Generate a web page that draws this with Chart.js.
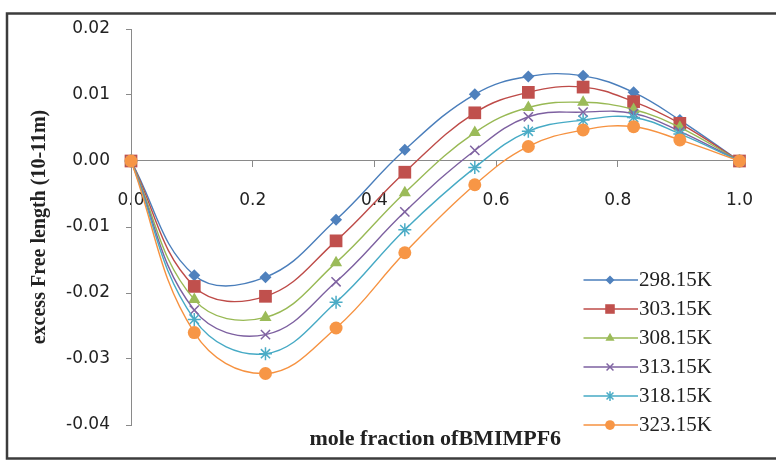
<!DOCTYPE html>
<html><head><meta charset="utf-8">
<script src="https://cdn.jsdelivr.net/npm/chart.js@4.4.1/dist/chart.umd.min.js"></script>
<style>html,body{margin:0;padding:0;background:#fff;}</style>
</head><body>
<canvas id="c" width="776" height="463" style="display:block;width:776px;height:463px"></canvas>
<script>
// ---- data ----
const moleFraction = [0, 0.104, 0.221, 0.337, 0.450, 0.565, 0.653, 0.743, 0.826, 0.902, 1.0];
const seriesLabels = ['298.15K', '303.15K', '308.15K', '313.15K', '318.15K', '323.15K'];
const vf298 = [0, -0.0173, -0.0176, -0.0089, 0.0017, 0.0101, 0.0128, 0.0129, 0.0104, 0.0062, 0];
const vf303 = [0, -0.0190, -0.0205, -0.0121, -0.0017, 0.0073, 0.0104, 0.0112, 0.0090, 0.0057, 0];
const vf308 = [0, -0.0210, -0.0237, -0.0154, -0.0048, 0.0043, 0.0081, 0.0089, 0.0078, 0.0051, 0];
const vf313 = [0, -0.0226, -0.0263, -0.0183, -0.0077, 0.0016, 0.0067, 0.0074, 0.0072, 0.0045, 0];
const vf318 = [0, -0.0240, -0.0292, -0.0214, -0.0104, -0.0010, 0.0045, 0.0062, 0.0066, 0.0041, 0];
const vf323 = [0, -0.0260, -0.0322, -0.0253, -0.0139, -0.0036, 0.0022, 0.0047, 0.0052, 0.0032, 0];
const xAxisTitle = 'mole fraction ofBMIMPF6';
const yAxisTitle = 'excess Free length (10-11m)';

// ---- styles ----
const seriesValues = [vf298, vf303, vf308, vf313, vf318, vf323];
const lineColors = ['#4A7EBB', '#BE4B48', '#98B954', '#7D60A0', '#46AAC5', '#F69240'];
const markColors = ['#4F81BD', '#C0504D', '#9BBB59', '#8064A2', '#4BACC6', '#F79646'];
const markStyles = ['rectRot', 'rect', 'triangle', 'crossRot', 'star', 'circle'];
const markRadius = [6, 9, 7, 6.5, 6.5, 6.5];

function drawMarker(ctx, style, x, y, r, col) {
  ctx.save();
  ctx.fillStyle = col; ctx.strokeStyle = col; ctx.lineWidth = 1.5;
  ctx.beginPath();
  if (style === 'rectRot') {
    ctx.moveTo(x, y - r); ctx.lineTo(x + r, y); ctx.lineTo(x, y + r); ctx.lineTo(x - r, y); ctx.closePath(); ctx.fill();
  } else if (style === 'rect') {
    const s = r / Math.SQRT2; ctx.fillRect(x - s, y - s, 2 * s, 2 * s);
  } else if (style === 'triangle') {
    ctx.moveTo(x, y - r); ctx.lineTo(x + r * 0.866, y + r / 2); ctx.lineTo(x - r * 0.866, y + r / 2); ctx.closePath(); ctx.fill();
  } else if (style === 'crossRot') {
    const s = r * 0.707;
    ctx.moveTo(x - s, y - s); ctx.lineTo(x + s, y + s); ctx.moveTo(x + s, y - s); ctx.lineTo(x - s, y + s); ctx.stroke();
  } else if (style === 'star') {
    const s = r * 0.707;
    ctx.moveTo(x - s, y - s); ctx.lineTo(x + s, y + s); ctx.moveTo(x + s, y - s); ctx.lineTo(x - s, y + s);
    ctx.moveTo(x, y - r); ctx.lineTo(x, y + r); ctx.stroke();
  } else {
    ctx.arc(x, y, r, 0, Math.PI * 2); ctx.fill();
  }
  ctx.restore();
}

const legendImgs = seriesLabels.map((_, i) => {
  const cv = document.createElement('canvas');
  cv.width = 56; cv.height = 18;
  const g = cv.getContext('2d');
  g.strokeStyle = lineColors[i]; g.lineWidth = 1.5;
  g.beginPath(); g.moveTo(0, 9); g.lineTo(56, 9); g.stroke();
  drawMarker(g, markStyles[i], 28, 9, markRadius[i] * 0.75, markColors[i]);
  return cv;
});

const datasets = seriesValues.map((vals, i) => ({
  label: seriesLabels[i],
  data: moleFraction.map((x, j) => ({x: x, y: vals[j]})),
  borderColor: lineColors[i],
  backgroundColor: markColors[i],
  pointBackgroundColor: markColors[i],
  pointBorderColor: markColors[i],
  pointBorderWidth: (markStyles[i] === 'crossRot' || markStyles[i] === 'star') ? 1.5 : 0,
  pointStyle: markStyles[i],
  pointRadius: markRadius[i],
  pointHoverRadius: markRadius[i],
  borderWidth: 1.4,
  tension: 0.4,
  clip: false,
  order: 5 - i
}));

const framePlugin = {
  id: 'frame',
  beforeDraw(chart) {
    const ctx = chart.ctx;
    ctx.save();
    ctx.fillStyle = '#fff'; ctx.fillRect(0, 0, chart.width, chart.height);
    ctx.strokeStyle = '#3c3c3c'; ctx.lineWidth = 2.5;
    ctx.strokeRect(7, 13.5, 790, 445);
    ctx.restore();
  },
  afterLayout(chart) {
    const lg = chart.legend;
    if (lg) {
      lg.left = 583.5; lg.top = 261.5;
      lg.right = lg.left + lg.width; lg.bottom = lg.top + lg.height;
    }
  },
  afterDraw(chart) {
    const ctx = chart.ctx, a = chart.chartArea;
    ctx.save();
    ctx.font = 'bold 22px "Liberation Serif"';
    ctx.fillStyle = '#222';
    ctx.textAlign = 'center'; ctx.textBaseline = 'middle';
    ctx.fillText(xAxisTitle, (a.left + a.right) / 2, 439);
    ctx.restore();
  }
};

new Chart(document.getElementById('c'), {
  type: 'line',
  data: {datasets},
  options: {
    responsive: false,
    animation: false,
    devicePixelRatio: 1,
    layout: {padding: {left: 24, right: 31, top: 29, bottom: 38}},
    plugins: {
      tooltip: {enabled: false},
      legend: {
        position: 'chartArea',
        align: 'start',
        labels: {
          usePointStyle: true,
          pointStyleWidth: 37,
          padding: 8,
          color: '#222',
          font: {family: '"Liberation Serif"', size: 21},
          generateLabels: (chart) => chart.data.datasets.map((ds, i) => ({
            text: ds.label, pointStyle: legendImgs[i], fillStyle: markColors[i],
            strokeStyle: markColors[i], lineWidth: 0, hidden: false, datasetIndex: i, fontColor: '#222'
          }))
        }
      }
    },
    scales: {
      x: {
        type: 'linear', min: 0, max: 1,
        position: {y: 0},
        border: {display: true, color: '#8a8a8a', width: 1},
        grid: {display: true, drawOnChartArea: false, drawTicks: true, tickLength: 6, color: '#8a8a8a'},
        ticks: {stepSize: 0.2, padding: 23, color: '#222', maxRotation: 0, autoSkip: false,
          font: {family: '"DejaVu Sans"', size: 17},
          callback: (v) => Number(v).toFixed(1)}
      },
      y: {
        min: -0.04, max: 0.02,
        border: {display: true, color: '#8a8a8a', width: 1},
        grid: {display: true, drawOnChartArea: false, drawTicks: true, tickLength: 5, color: '#8a8a8a'},
        ticks: {stepSize: 0.01, padding: 16, color: '#222',
          font: {family: '"DejaVu Sans"', size: 17},
          callback: (v) => Math.abs(v) < 1e-9 ? '0.00' : Number(v).toFixed(2)},
        title: {display: true, text: yAxisTitle, color: '#222', padding: {top: 4, bottom: 4},
          font: {family: '"Liberation Serif"', size: 20, weight: 'bold'}},
        afterFit(s) { s.width = 107; }
      }
    }
  },
  plugins: [framePlugin]
});
</script>
</body></html>
